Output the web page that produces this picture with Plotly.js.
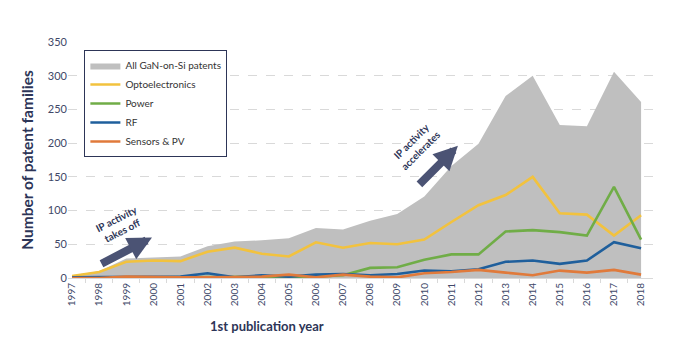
<!DOCTYPE html>
<html><head><meta charset="utf-8">
<script src="https://cdn.plot.ly/plotly-3.0.1.min.js"></script>
<style>html,body{margin:0;padding:0;background:#fff;}#chart{width:680px;height:347px;}</style>
</head><body><div id="chart"></div>
<script>
const years = ['1997','1998','1999','2000','2001','2002','2003','2004','2005','2006','2007','2008','2009','2010','2011','2012','2013','2014','2015','2016','2017','2018'];
const allGaN = [4,10,29,30,32,47,54,56,59,74,72,85,95,121,166,199,270,300,227,225,306,261];
const opto = [3,9,24,26,25,39,45,36,32,53,45,52,50,57,83,108,123,150,96,94,63,93];
const power = [0,1,1,1,1,2,1,1,2,2,4,15,16,27,35,35,69,71,68,63,135,57];
const rf = [1,1,1,1,2,7,1,4,2,5,6,4,6,11,10,13,24,26,21,26,53,44];
const sensors = [0,0,2,1,1,1,1,2,5,1,5,2,1,7,9,12,8,4,11,8,12,5];
const seriesNames = ['All GaN-on-Si patents','Optoelectronics','Power','RF','Sensors & PV'];
const colors = ['#bfbfbf','#f2c23e','#70ad47','#1f5f9c','#e07a3b'];

const navy = '#2d3557';
const traces = [
  {x: years, y: allGaN, name: seriesNames[0], type:'scatter', mode:'lines', fill:'tozeroy', fillcolor: colors[0], line:{width:0, color: colors[0]}},
  {x: years, y: opto, name: seriesNames[1], type:'scatter', mode:'lines', line:{width:2.6, color: colors[1]}},
  {x: years, y: power, name: seriesNames[2], type:'scatter', mode:'lines', line:{width:2.6, color: colors[2]}},
  {x: years, y: rf, name: seriesNames[3], type:'scatter', mode:'lines', line:{width:2.6, color: colors[3]}},
  {x: years, y: sensors, name: seriesNames[4], type:'scatter', mode:'lines', line:{width:2.6, color: colors[4]}}
];

const arrowColor = '#4b5374';
const layout = {
  width: 680, height: 347,
  margin: {l: 68, r: 27, t: 42, b: 69},
  paper_bgcolor: '#fff', plot_bgcolor: '#fff',
  font: {family: 'Lato, "Open Sans", sans-serif', color: navy},
  showlegend: true,
  legend: {x: 0.028, y: 0.966, xanchor: 'left', yanchor: 'top', bgcolor: '#fff', bordercolor: navy, borderwidth: 1,
           font: {size: 10, color: '#333'}, tracegroupgap: 0, itemwidth: 30},
  xaxis: {type: 'category', range: [-0.15, 21.44], tickangle: -90, tickfont: {size: 10, color: '#404868'},
          showgrid: false, showline: true, linecolor: '#d9d9d9', linewidth: 1,
          ticks: 'outside', ticklen: 4, tickcolor: '#d9d9d9', tickson: 'boundaries', zeroline: false},
  yaxis: {range: [0, 350], tickvals: [0,50,100,150,200,250,300,350], tickfont: {size: 11, color: '#404868'},
          showgrid: true, gridcolor: '#d9d9d9', griddash: 'dash', zeroline: false, showline: false, ticks: '',
          title: {text: '<b>Number of patent families</b>', font: {size: 15.5, color: navy}, standoff: 10}},
  annotations: [
    {xref: 'paper', yref: 'paper', x: 0.34, y: -0.16, xanchor: 'center', yanchor: 'top', showarrow: false,
     text: '<b>1st publication year</b>', font: {size: 13, color: navy}},
    {x: 2.95, y: 60, xref: 'x', yref: 'y', ax: -52, ay: 27, text: '', showarrow: true, arrowhead: 2, arrowsize: 0.6, arrowwidth: 8, arrowcolor: arrowColor},
    {x: 14.24, y: 196, xref: 'x', yref: 'y', ax: -40, ay: 40, text: '', showarrow: true, arrowhead: 2, arrowsize: 0.6, arrowwidth: 8, arrowcolor: arrowColor},
    {x: 1.75, y: 79, xref: 'x', yref: 'y', showarrow: false, textangle: -27, text: '<b>IP activity<br>takes off</b>', font: {size: 10, color: navy}},
    {x: 12.7, y: 196, xref: 'x', yref: 'y', showarrow: false, textangle: -45, text: '<b>IP activity<br>accelerates</b>', font: {size: 10, color: navy}}
  ]
};
Plotly.newPlot('chart', traces, layout, {displayModeBar: false, staticPlot: true});
</script></body></html>
